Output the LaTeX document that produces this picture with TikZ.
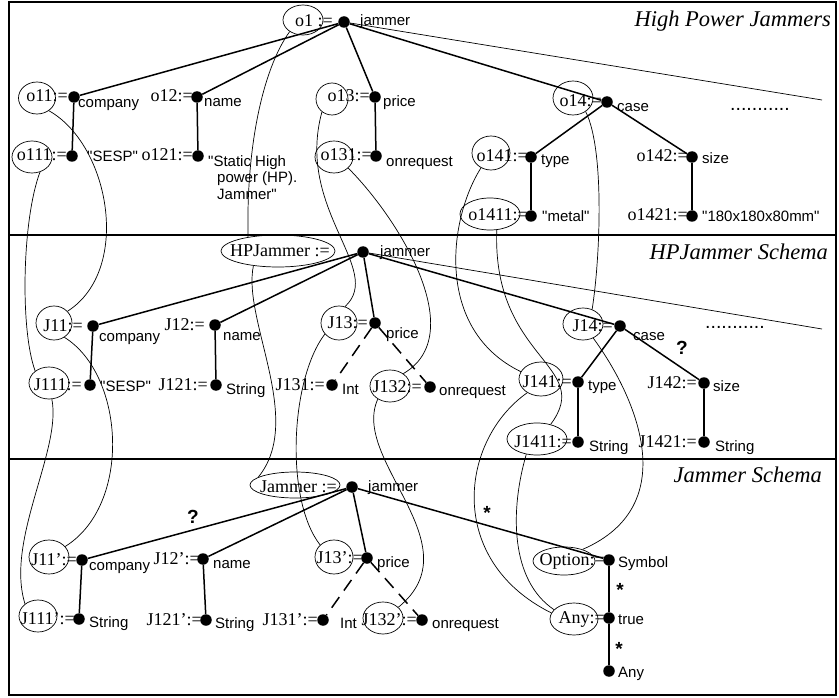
\documentclass[tikz,border=0pt]{standalone}
\usepackage{fontspec}
\setmainfont{Liberation Serif}
\setsansfont{Liberation Sans}[Ligatures=TeXOff]
\usetikzlibrary{shapes.geometric}

\newcommand\idfont{\fontsize{18}{20}\selectfont}
\newcommand\valfont{\sffamily\fontsize{15}{16}\selectfont}
\newcommand\ttlfont{\itshape\fontsize{22.5}{25}\selectfont}
\newcommand\symfont{\sffamily\bfseries\fontsize{19}{20}\selectfont}

\tikzset{
dot/.style={circle,fill,inner sep=0pt,minimum size=11.5pt},
oval/.style={draw,ellipse,inner sep=0pt,line width=0.7pt},
idtxt/.style={font=\idfont,anchor=east,inner sep=0pt,text height=12pt,text depth=2pt},
valtxt/.style={font=\valfont,anchor=west,inner sep=0pt,text height=11pt,text depth=3pt},
treeline/.style={line width=1.5pt},
optline/.style={treeline,dash pattern=on 13pt off 8pt},
xlink/.style={line width=0.7pt},
ttl/.style={font=\ttlfont,anchor=base east,inner sep=0pt},
sym/.style={font=\symfont,inner sep=0pt},
more/.style={font=\sffamily\fontsize{19.5}{20}\selectfont,anchor=base west,inner sep=0pt}
}

\begin{document}
\begin{tikzpicture}[x=1pt,y=-1pt]
\useasboundingbox (0,0) rectangle (839,698);
\draw[line width=1.2pt] (9,2) rectangle (836,695);
\draw[line width=1.2pt] (9,235) -- (836,235) (9,459) -- (836,459);

\node[ttl] (t1) at (831,27) {High Power Jammers};
\node[ttl] (t2) at (828,260) {HPJammer Schema};
\node[ttl] (t3) at (822,482) {Jammer Schema};

\foreach \n/\x/\y in {o1/344/22,o11/74/97,o12/197/97,o13/375/97,o14/607/102,o111/72/156,o121/198/156,o131/376/156,o141/531/157,o142/692/157,o1411/531/216,o1421/692/216,
hp/363/252,J11/93/326,J12/215/325,J13/375/323,J14/620/326,J111/90/385,J121/216/385,J131/332/385,J132/430/387,J141/578/382,J142/704/383,J1411/578/442,J1421/704/442,
jm/352/487,J11p/82/560,J12p/203/559,J13p/367/558,J111p/79/619,J121p/206/620,J131p/323/620,J132p/422/620,op/609/560,an/609/618,an2/609/671}
  \node[dot] (\n) at (\x,\y) {};

\foreach \n/\t/\g in {o1/{o1 :=}/11,o11/o11:=/6,o12/o12:=/4,o13/o13:=/5,o14/o14:=/5,o111/o111:=/5,o121/o121:=/5,o131/o131:=/4,o141/o141:=/3,o142/o142:=/4,o1411/o1411:=/3,o1421/o1421:=/4,
hp/{HPJammer :=}/33,J11/J11:=/10,J12/J12:=/10,J13/J13:=/7,J14/J14:=/7,J111/J111:=/8,J121/J121:=/8,J131/J131:=/7,J132/J132:=/8,J141/J141:=/6,J142/J142:=/7,J1411/J1411:=/6,J1421/J1421:=/7,
jm/{Jammer :=}/15,J11p/J11':=/5,J12p/J12':=/3,J13p/J13':=/4,J111p/J111':=/4,J121p/J121':=/4,J131p/J131':=/5,J132p/J132':=/5,op/Option:=/4,an/Any:=/4}
  \node[idtxt] (\n id) at ([xshift=-\g pt]\n.center) {\t};

\foreach \n/\t/\dx/\dy in {o1/jammer/16/0,o11/company/4/7,o12/name/7/6,o13/price/8/6,o14/case/10/6,o111/"SESP"/15/2,o131/onrequest/10/7,o141/type/10/4,o142/size/10/3,o1411/"metal"/11/2,o1421/"180x180x80mm"/10/2,
hp/jammer/17/0,J11/company/6/11,J12/name/8/11,J13/price/11/11,J14/case/13/10,J111/"SESP"/10/2,J121/String/10/5,J131/Int/10/5,J132/onrequest/9/4,J141/type/10/4,J142/size/9/4,J1411/String/11/5,J1421/String/11/5,
jm/jammer/16/0,J11p/company/7/6,J12p/name/10/5,J13p/price/10/5,J111p/String/10/4,J121p/String/9/4,J131p/Int/17/4,J132p/onrequest/10/4,op/Symbol/9/3,an/true/9/2,an2/Any/9/2}
  \node[valtxt] (\n val) at ([shift={(\dx,\dy)}]\n.center) {\t};
\node[font=\sffamily\fontsize{15}{16.5}\selectfont,inner sep=0pt,anchor=north west,align=left] (o121val) at (208,155) {"Static High\\\hspace*{9pt}power (HP).\\\hspace*{9pt}Jammer"};

\foreach \n/\x/\y/\w/\h in {o1e/303/20/40/30,o11e/37/98/37/32,o13e/332/99/32/32,o14e/573/98/40/34,o111e/32/157/40/32,o131e/334/157/38/32,o141e/491/153/38/34,o1411e/490/214/60/32,
hpe/278/251/114/32,J11e/54/323/36/34,J13e/339/323/36/34,J14e/583/324/40/32,J111e/49/383/40/32,J132e/390/386/40/32,J141e/541/379/44/34,J1411e/537/439/60/32,
jme/295/485/90/26,J11pe/49/557/40/34,J13pe/334/557/38/34,J111pe/38/616/38/32,J132pe/383/618/40/32,ope/564/561/62/28,ane/574/619/48/32}
  \node[oval,minimum width=\w pt,minimum height=\h pt] (\n) at (\x,\y) {};

\foreach \a/\b in {o1/o11,o1/o12,o1/o13,o1/o14,o11/o111,o12/o121,o13/o131,o14/o141,o14/o142,o141/o1411,o142/o1421,
hp/J11,hp/J12,hp/J13,hp/J14,J11/J111,J12/J121,J14/J141,J14/J142,J141/J1411,J142/J1421,
jm/J11p,jm/J12p,jm/J13p,jm/op,J11p/J111p,J12p/J121p,op/an,an/an2}
  \draw[treeline] (\a) -- (\b);
\foreach \a/\b in {J13/J131,J13/J132,J13p/J131p,J13p/J132p}
  \draw[optline] (\a) -- (\b);

\coordinate (end1) at (822,100);
\coordinate (end2) at (822,329);
\draw[xlink] (o1) -- (end1);
\draw[xlink] (hp) -- (end2);
\node[more] (more1) at (730,111) {...........};
\node[more] (more2) at (705,328) {...........};

\node[sym] (q1) at (682,348) {?};
\node[sym] (q2) at (193,517) {?};
\node[sym] (s1) at (487,513) {*};
\node[sym] (s2) at (620,590) {*};
\node[sym] (s3) at (619,649) {*};

\draw[xlink] (o1e.221) .. controls (262,70) and (246,150) .. (hpe.155);
\draw[xlink] (hpe.211) .. controls (242,320) and (305,420) .. (jme.168);
\draw[xlink] (o11e.313) .. controls (110,145) and (132,270) .. (J11e.41);
\draw[xlink] (o111e.298) .. controls (22,220) and (20,330) .. (J111e.139);
\draw[xlink] (J11e.306) .. controls (125,375) and (132,505) .. (J11pe.33);
\draw[xlink] (J111e.280) .. controls (62,450) and (5,540) .. (J111pe.137);
\draw[xlink] (o13e.232) .. controls (295,210) and (385,270) .. (J13e.70);
\draw[xlink] (J13e.218) .. controls (290,380) and (285,500) .. (J13pe.139);
\draw[xlink] (o131e.322) .. controls (400,220) and (470,335) .. (J132e.43);
\draw[xlink] (J132e.227) .. controls (350,460) and (475,545) .. (J132pe.35);
\draw[xlink] (o14e.313) .. controls (605,150) and (600,260) .. (J14e.58);
\draw[xlink] (J14e.306) .. controls (635,395) and (685,505) .. (ope.32);
\draw[xlink] (o141e.236) .. controls (448,220) and (435,330) .. (J141e.160);
\draw[xlink] (o1411e.293) .. controls (492,360) and (595,365) .. (J1411e.47);
\draw[xlink] (J141e.225) .. controls (460,440) and (445,560) .. (ane.165);
\draw[xlink] (J1411e.235) .. controls (510,510) and (510,580) .. (ane.155);
\end{tikzpicture}
\end{document}
